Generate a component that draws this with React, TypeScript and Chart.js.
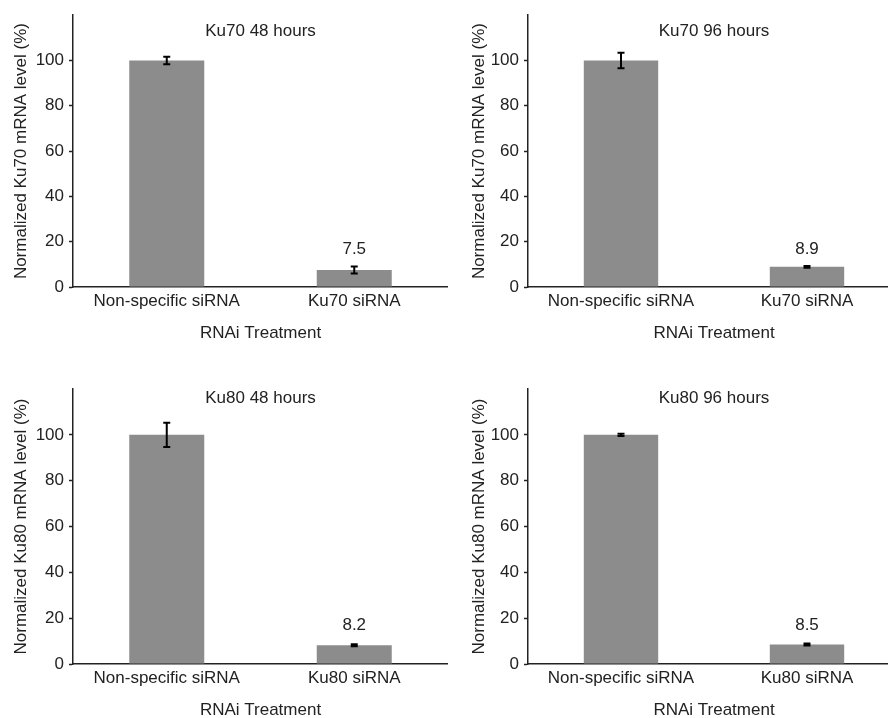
import React, { useEffect, useRef } from 'react';
import { Chart, registerables } from 'chart.js';

Chart.register(...registerables);

// ---- Data ----
const ku70Categories = ['Non-specific siRNA', 'Ku70 siRNA'];
const ku80Categories = ['Non-specific siRNA', 'Ku80 siRNA'];

const ku70h48Values = [100, 7.5];
const ku70h48Errors = [1.7, 1.5];
const ku70h96Values = [100, 8.9];
const ku70h96Errors = [3.4, 0.4];
const ku80h48Values = [100, 8.2];
const ku80h48Errors = [5.3, 0.4];
const ku80h96Values = [100, 8.5];
const ku80h96Errors = [0.5, 0.4];

const showValueLabel = [false, true];
const yTickValues = [0, 20, 40, 60, 80, 100];
const yMin = 0;
const yMax = 120;
const valueLabelY = 16.7;

const FONT = "'Liberation Sans', Arial, Helvetica, sans-serif";
const TEXT = '#222222';
const BAR = '#8C8C8C';

type Layout = {
  left: number; top: number; width: number; height: number;
  yAxisWidth: number; chartTop: number; chartBottom: number;
  yTitlePad: number; xTitlePadBottom: number; titleOffset: number;
};

type PanelProps = {
  title: string; yTitle: string; categories: string[];
  values: number[]; errors: number[]; layout: Layout;
};

function Panel({ title, yTitle, categories, values, errors, layout }: PanelProps) {
  const ref = useRef<HTMLCanvasElement | null>(null);
  useEffect(() => {
    if (!ref.current) return;
    const overlay = {
      id: 'overlay',
      afterDatasetsDraw(chart: any) {
        const ctx = chart.ctx;
        const ys = chart.scales.y;
        const meta = chart.getDatasetMeta(0);
        ctx.save();
        meta.data.forEach((bar: any, i: number) => {
          const x = bar.x;
          const v = values[i];
          const e = errors[i];
          const yTop = ys.getPixelForValue(v + e);
          const yBot = ys.getPixelForValue(v - e);
          ctx.strokeStyle = '#000';
          ctx.lineWidth = 2;
          ctx.beginPath();
          ctx.moveTo(x, yTop);
          ctx.lineTo(x, yBot);
          ctx.moveTo(x - 3.5, yTop);
          ctx.lineTo(x + 3.5, yTop);
          ctx.moveTo(x - 3.5, yBot);
          ctx.lineTo(x + 3.5, yBot);
          ctx.stroke();
          if (showValueLabel[i]) {
            ctx.fillStyle = TEXT;
            ctx.font = `17px ${FONT}`;
            ctx.textAlign = 'center';
            ctx.textBaseline = 'middle';
            ctx.fillText(v.toFixed(1), x, ys.getPixelForValue(valueLabelY));
          }
        });
        const ca = chart.chartArea;
        ctx.fillStyle = TEXT;
        ctx.font = `17px ${FONT}`;
        ctx.textAlign = 'center';
        ctx.textBaseline = 'middle';
        ctx.fillText(title, (ca.left + ca.right) / 2, ca.top + layout.titleOffset);
        ctx.restore();
      },
    };
    const chart = new Chart(ref.current, {
      type: 'bar',
      data: {
        labels: categories,
        datasets: [{
          data: values,
          backgroundColor: BAR,
          borderWidth: 0,
          categoryPercentage: 1,
          barPercentage: 0.4,
        }],
      },
      options: {
        responsive: false,
        maintainAspectRatio: false,
        animation: false,
        layout: { padding: { top: layout.chartTop, left: 0, right: 0, bottom: 0 } },
        plugins: { legend: { display: false }, tooltip: { enabled: false } },
        scales: {
          x: {
            grid: { display: false, drawTicks: false },
            border: { display: true, color: TEXT, width: 1.5 },
            ticks: { color: TEXT, font: { family: FONT, size: 17 }, padding: 4.5, maxRotation: 0 },
            title: {
              display: true, text: 'RNAi Treatment', color: TEXT,
              font: { family: FONT, size: 17, lineHeight: 1.2 },
              padding: { top: 0, bottom: layout.xTitlePadBottom },
            },
            afterFit: (s: any) => { s.height = layout.height - layout.chartBottom; },
          },
          y: {
            min: yMin,
            max: yMax,
            afterBuildTicks: (s: any) => { s.ticks = yTickValues.map((v) => ({ value: v })); },
            grid: { display: true, drawOnChartArea: false, drawTicks: true, tickLength: 4, tickColor: TEXT, tickWidth: 1.5 },
            border: { display: true, color: TEXT, width: 1.5 },
            ticks: { color: TEXT, font: { family: FONT, size: 17 }, padding: 5 },
            title: {
              display: true, text: yTitle, color: TEXT,
              font: { family: FONT, size: 17, lineHeight: 1.2 },
              padding: { top: layout.yTitlePad, bottom: 0 },
            },
            afterFit: (s: any) => { s.width = layout.yAxisWidth; },
          },
        },
      } as any,
      plugins: [overlay],
    });
    return () => chart.destroy();
  }, []);
  return (
    <canvas
      ref={ref}
      width={layout.width}
      height={layout.height}
      style={{ position: 'absolute', left: layout.left, top: layout.top, width: layout.width, height: layout.height, display: 'block' }}
    />
  );
}

export default function App() {
  const topLeft: Layout = { left: 0, top: 0, width: 448, height: 359, yAxisWidth: 73, chartTop: 12, chartBottom: 287, yTitlePad: 11.1, xTitlePadBottom: 15.5, titleOffset: 16.3 };
  const topRight: Layout = { left: 444, top: 0, width: 456, height: 359, yAxisWidth: 84, chartTop: 12, chartBottom: 287, yTitlePad: 24.8, xTitlePadBottom: 15.5, titleOffset: 16.3 };
  const botLeft: Layout = { left: 0, top: 359, width: 448, height: 362, yAxisWidth: 73, chartTop: 30, chartBottom: 305, yTitlePad: 11.1, xTitlePadBottom: 0.3, titleOffset: 9.3 };
  const botRight: Layout = { left: 444, top: 359, width: 456, height: 362, yAxisWidth: 84, chartTop: 30, chartBottom: 305, yTitlePad: 24.8, xTitlePadBottom: 0.3, titleOffset: 9.3 };
  return (
    <div style={{ position: 'absolute', left: 0, top: 0, width: 888, height: 718, overflow: 'hidden', background: '#fff' }}>
      <Panel title="Ku70 48 hours" yTitle="Normalized Ku70 mRNA level (%)" categories={ku70Categories} values={ku70h48Values} errors={ku70h48Errors} layout={topLeft} />
      <Panel title="Ku70 96 hours" yTitle="Normalized Ku70 mRNA level (%)" categories={ku70Categories} values={ku70h96Values} errors={ku70h96Errors} layout={topRight} />
      <Panel title="Ku80 48 hours" yTitle="Normalized Ku80 mRNA level (%)" categories={ku80Categories} values={ku80h48Values} errors={ku80h48Errors} layout={botLeft} />
      <Panel title="Ku80 96 hours" yTitle="Normalized Ku80 mRNA level (%)" categories={ku80Categories} values={ku80h96Values} errors={ku80h96Errors} layout={botRight} />
    </div>
  );
}
